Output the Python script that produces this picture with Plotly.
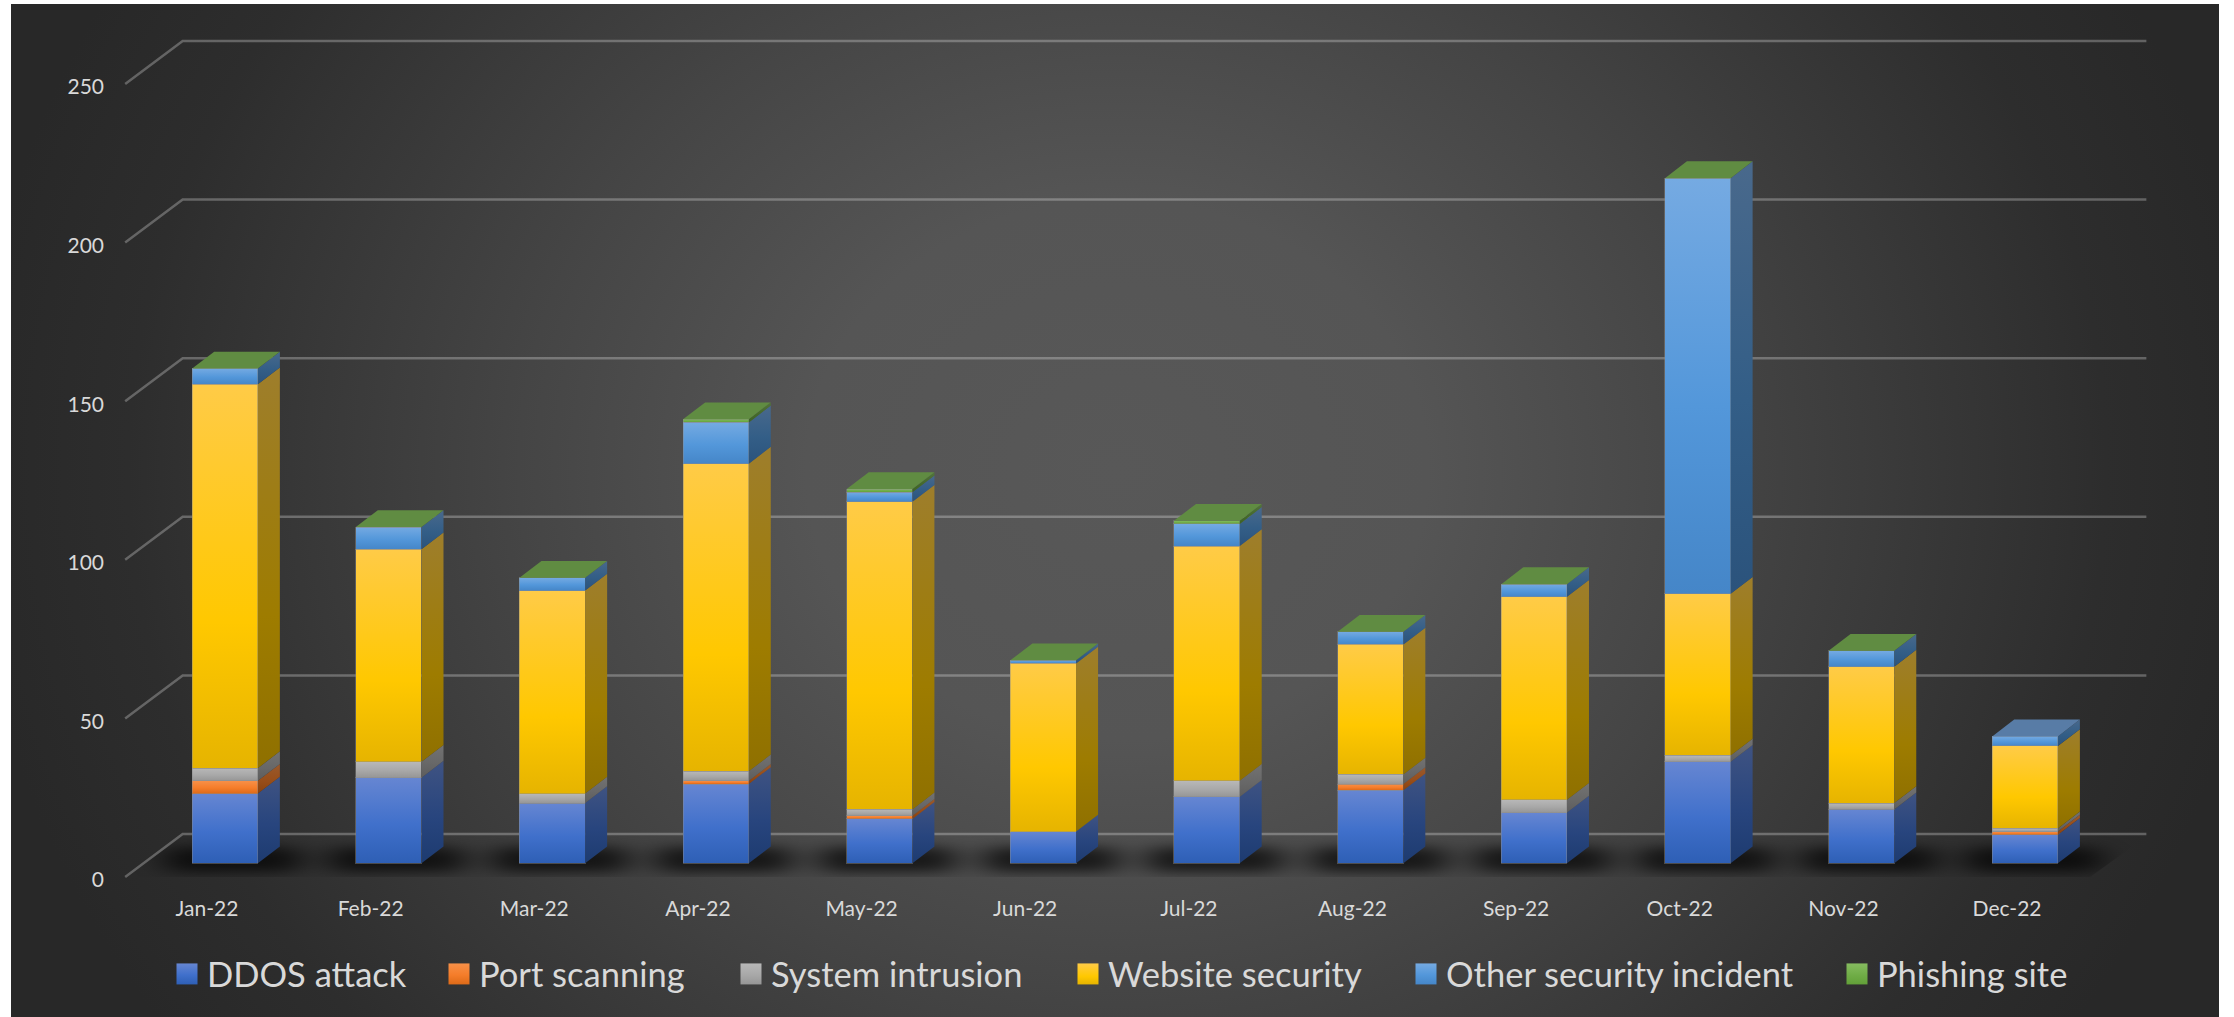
import base64
import plotly.graph_objects as go

# ---------- data ----------
months = ["Jan-22", "Feb-22", "Mar-22", "Apr-22", "May-22", "Jun-22",
          "Jul-22", "Aug-22", "Sep-22", "Oct-22", "Nov-22", "Dec-22"]
series_names = ["DDOS attack", "Port scanning", "System intrusion",
                "Website security", "Other security incident", "Phishing site"]
ddos = [22, 27, 19, 25, 14, 10, 21, 23, 16, 32, 17, 9]
port = [4, 0, 0, 1, 1, 0, 0, 2, 0, 0, 0, 1]
system = [4, 5, 3, 3, 2, 0, 5, 3, 4, 2, 2, 1]
website = [121, 67, 64, 97, 97, 53, 74, 41, 64, 51, 43, 26]
other = [5, 7, 4, 13, 3, 1, 7, 4, 4, 131, 5, 3]
phishing = [0, 0, 0, 1, 1, 0, 1, 0, 0, 0, 0, None]
y_ticks = [0, 50, 100, 150, 200, 250]
all_series = [ddos, port, system, website, other, phishing]

# ---------- style ----------
W, H = 2234, 1017
grads = [("#6686d2", "#4070cb", "#2e5fb5", .55),
         ("#f79048", "#f57d2a", "#dd6a18", .55),
         ("#b8b8b8", "#a8a8a8", "#969696", .55),
         ("#ffcb47", "#ffc800", "#e6b400", .62),
         ("#75aae2", "#5397da", "#4586c8", .55),
         ("#86bc60", "#70ad47", "#62a038", .55)]
top_colors = ["#4b6ea8", "#b06a30", "#8a8a8a", "#b89a30", "#587ca6", "#608c42"]
legend_left = [177, 449, 741, 1078, 1416, 1847]
FONT = "Lato"
TEXT = "#d9d9d9"

# pixel geometry of the two frames (front of the floor / front of the bars)
PX_PER_UNIT = 3.172
X_STEP = 163.64
FLOOR_X0, FLOOR_Y0 = 207.0, 877.0
BAR_X0, BAR_Y0 = 225.0, 863.3
BAR_W = 65.7 / X_STEP
DEPTH_X, DEPTH_Y = 22.0 / X_STEP, 16.8 / PX_PER_UNIT      # bar depth
FLOOR_DX, FLOOR_DY = 57.5 / X_STEP, 43.0 / PX_PER_UNIT    # floor depth


def xr(x0):
    return [-x0 / X_STEP, (W - x0) / X_STEP]


def yr(y0):
    return [-(H - y0) / PX_PER_UNIT, y0 / PX_PER_UNIT]


def bar_px(i):
    return BAR_X0 + i * X_STEP


# ---------- background picture: gradient and floor shadow ----------
shadow = "".join(
    f'<rect x="{bar_px(i) - 60:.1f}" y="847" width="136" height="25" rx="10" fill="#000"/>'
    for i in range(len(months)))
svg = f'''<svg xmlns="http://www.w3.org/2000/svg" width="{W}" height="{H}" viewBox="0 0 {W} {H}">
<defs>
<radialGradient id="bg" gradientUnits="userSpaceOnUse" cx="0" cy="0" r="1"
 gradientTransform="translate(1117 470) scale(1150 1000)">
<stop offset="0" stop-color="#585858"/><stop offset=".27" stop-color="#555555"/>
<stop offset=".52" stop-color="#454545"/><stop offset=".86" stop-color="#2d2d2d"/>
<stop offset="1" stop-color="#282828"/></radialGradient>
<filter id="b" x="-10%" y="-200%" width="120%" height="500%"><feGaussianBlur stdDeviation="16 6"/></filter>
<clipPath id="floor"><path d="M125 877L183 836L2147 836L2090 877Z"/></clipPath>
</defs>
<rect x="11" y="4" width="2208" height="1013" fill="url(#bg)"/>
<g clip-path="url(#floor)"><g filter="url(#b)" opacity=".66">{shadow}</g></g>
</svg>'''
bg_uri = "data:image/svg+xml;base64," + base64.b64encode(svg.encode()).decode()

fig = go.Figure()

# ---------- gridlines on the floor frame ----------
GRID_L, GRID_R = -0.5, len(months) - 0.5
for t in y_ticks:
    fig.add_trace(go.Scatter(
        x=[GRID_L, GRID_L + FLOOR_DX, GRID_R + FLOOR_DX],
        y=[t, t + FLOOR_DY, t + FLOOR_DY],
        mode="lines", line=dict(color="rgba(255,255,255,0.27)", width=2.5),
        showlegend=False, hoverinfo="skip", xaxis="x", yaxis="y"))

# ---------- front faces ----------
for k, (name, vals) in enumerate(zip(series_names, all_series)):
    leg = "legend" if k == 0 else f"legend{k + 1}"
    fig.add_trace(go.Bar(
        x=list(range(len(months))), y=vals, name=name, width=BAR_W,
        marker=dict(color=grads[k][1], line=dict(color="rgba(140,140,140,0.45)", width=1)),
        xaxis="x2", yaxis="y2", legend=leg, meta=f"f{k}",
        customdata=months, hovertemplate="%{customdata}<br>%{y}<extra>" + name + "</extra>"))

# ---------- side and top faces, computed from the stacked values ----------
for i in range(len(months)):
    cum = 0
    right = i + BAR_W / 2
    left = i - BAR_W / 2
    last = 0
    for k, vals in enumerate(all_series):
        v = vals[i]
        if v is None:
            continue
        last = k
        if v > 0:
            fig.add_trace(go.Scatter(
                x=[right, right + DEPTH_X, right + DEPTH_X, right, right],
                y=[cum, cum + DEPTH_Y, cum + v + DEPTH_Y, cum + v, cum],
                mode="none", fill="toself", fillcolor=grads[k][1], meta=f"s{k}",
                showlegend=False, hoverinfo="skip", xaxis="x2", yaxis="y2"))
        cum += v
    fig.add_trace(go.Scatter(
        x=[left, left + DEPTH_X, right + DEPTH_X, right, left],
        y=[cum, cum + DEPTH_Y, cum + DEPTH_Y, cum, cum],
        mode="none", fill="toself", fillcolor=top_colors[last], meta="t",
        showlegend=False, hoverinfo="skip", xaxis="x2", yaxis="y2"))

# ---------- layout ----------
layout = dict(
    width=W, height=H, autosize=False,
    margin=dict(l=0, r=0, t=0, b=0, pad=0),
    paper_bgcolor="white", plot_bgcolor="rgba(0,0,0,0)",
    barmode="stack", hovermode="closest",
    font=dict(family=FONT, color=TEXT),
    images=[dict(source=bg_uri, xref="paper", yref="paper", x=0, y=1, sizex=1, sizey=1,
                 xanchor="left", yanchor="top", sizing="stretch", layer="below")],
    xaxis=dict(range=xr(FLOOR_X0), domain=[0, 1], anchor="free", position=1 - 894 / H,
               tickmode="array", tickvals=list(range(len(months))), ticktext=months,
               showgrid=False, zeroline=False, showline=False, ticks="",
               tickangle=0, tickfont=dict(family=FONT, size=21, color=TEXT)),
    yaxis=dict(range=yr(FLOOR_Y0), domain=[0, 1], anchor="free", position=104 / W,
               tickmode="array", tickvals=y_ticks, ticklabelshift=3,
               showgrid=False, zeroline=False, showline=False, ticks="",
               tickfont=dict(family=FONT, size=21, color=TEXT)),
    xaxis2=dict(range=xr(BAR_X0), domain=[0, 1], overlaying="x", visible=False, anchor="y2"),
    yaxis2=dict(range=yr(BAR_Y0), domain=[0, 1], overlaying="y", visible=False, anchor="x2"),
)
for k in range(len(series_names)):
    key = "legend" if k == 0 else f"legend{k + 1}"
    layout[key] = dict(
        x=(legend_left[k] - 10) / W, xanchor="left", y=1 - 974 / H, yanchor="middle",
        bgcolor="rgba(0,0,0,0)", borderwidth=0, orientation="h", traceorder="normal",
        font=dict(family=FONT, size=34.5, color=TEXT), itemclick=False, itemdoubleclick=False)
fig.update_layout(**layout)

# ---------- gradients on the drawn faces ----------
js_grads = str([[g[0], g[1], g[2], g[3]] for g in grads])
post = """
document.body.style.margin = '0';
document.body.style.overflow = 'hidden';
(function () {
  var gd = document.getElementById('{plot_id}');
  var G = __GRADS__;
  var NS = 'http://www.w3.org/2000/svg';
  function mul(c, f) {
    var n = parseInt(c.slice(1), 16);
    var r = Math.round((n >> 16) * f), g = Math.round(((n >> 8) & 255) * f), b = Math.round((n & 255) * f);
    return 'rgb(' + r + ',' + g + ',' + b + ')';
  }
  function meta(el) {
    var d = el.__data__;
    while (Array.isArray(d)) { d = d[0]; }
    return d && d.trace ? d.trace.meta : null;
  }
  var host = document.createElementNS(NS, 'svg');
  host.setAttribute('width', 0); host.setAttribute('height', 0);
  host.style.position = 'absolute';
  var defs = document.createElementNS(NS, 'defs');
  host.appendChild(defs); document.body.appendChild(host);
  function make(id, g, f) {
    var lg = document.createElementNS(NS, 'linearGradient');
    lg.id = id; lg.setAttribute('x1', 0); lg.setAttribute('y1', 0); lg.setAttribute('x2', 0); lg.setAttribute('y2', 1);
    [[0, g[0]], [g[3], g[1]], [1, g[2]]].forEach(function (s) {
      var st = document.createElementNS(NS, 'stop');
      st.setAttribute('offset', s[0]); st.setAttribute('stop-color', mul(s[1], f));
      lg.appendChild(st);
    });
    defs.appendChild(lg);
  }
  G.forEach(function (g, i) { make('gf' + i, g, 1); make('gs' + i, g, 0.62); });
  function apply() {
    gd.querySelectorAll('.barlayer .trace').forEach(function (t) {
      var m = meta(t);
      if (!m) { return; }
      t.querySelectorAll('path').forEach(function (p) { p.style.fill = 'url(#g' + m + ')'; });
    });
    gd.querySelectorAll('.scatterlayer .trace').forEach(function (t) {
      var m = meta(t);
      if (m && m[0] === 's') {
        t.querySelectorAll('.js-fill').forEach(function (p) { p.style.fill = 'url(#g' + m + ')'; });
      }
    });
    gd.querySelectorAll('.infolayer .traces').forEach(function (t) {
      var m = meta(t);
      if (!m) { return; }
      t.querySelectorAll('.legendpoints path').forEach(function (p) {
        p.setAttribute('d', 'M10.5,10.5H-10.5V-10.5H10.5Z');
        p.style.fill = 'url(#g' + m + ')';
        p.style.stroke = 'none';
      });
    });
  }
  apply();
  gd.on('plotly_afterplot', apply);
  [50, 300, 1000].forEach(function (d) { setTimeout(apply, d); });
})();
""".replace("__GRADS__", js_grads)

fig.write_html("out.html", post_script=post, config={"displayModeBar": False})
